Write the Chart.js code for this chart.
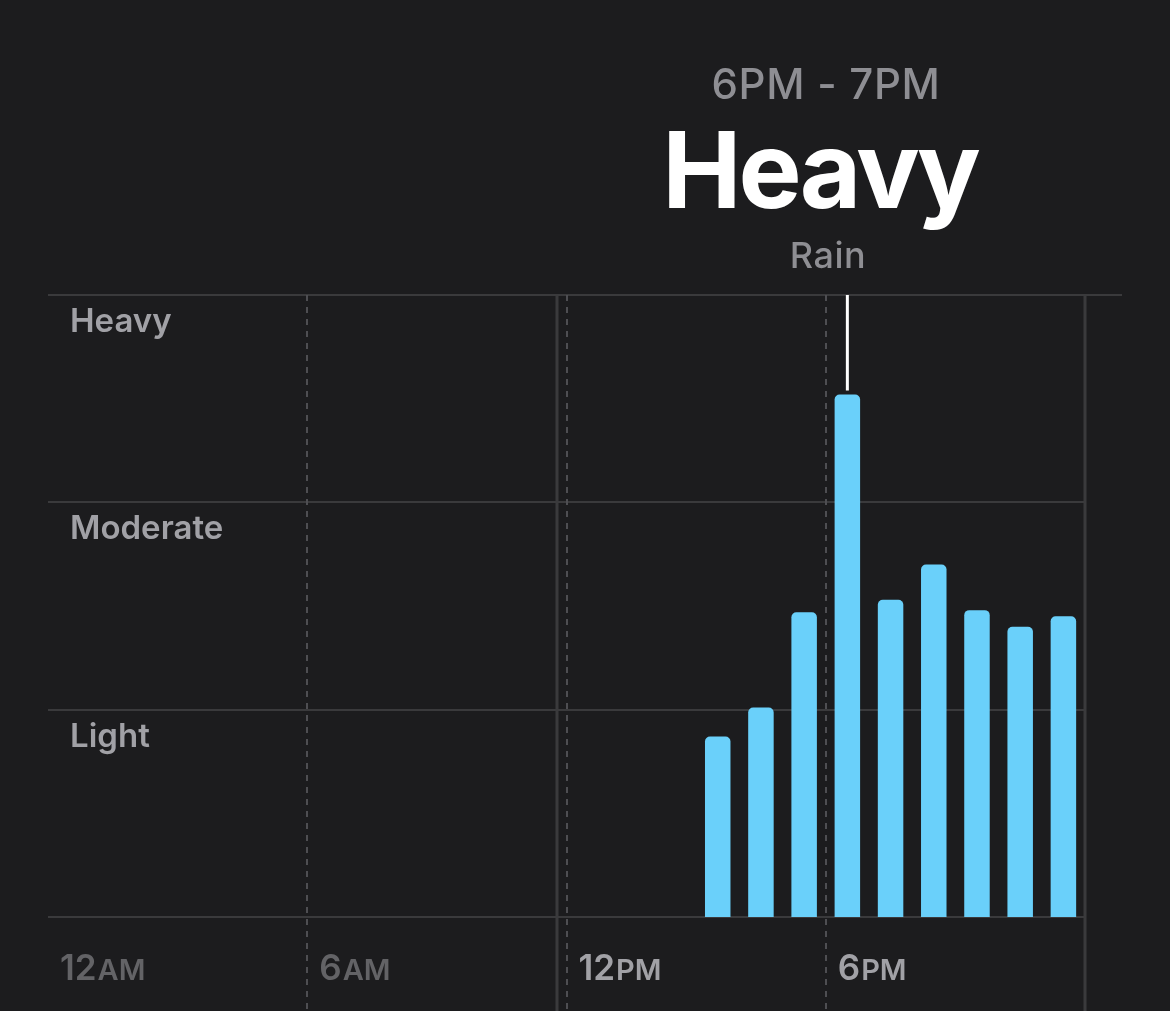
<!DOCTYPE html>
<html>
<head>
<meta charset="utf-8">
<script src="https://cdn.jsdelivr.net/npm/chart.js@4.4.1/dist/chart.umd.min.js"></script>
<style>
  body { margin: 0; background: #1c1c1e; overflow: hidden; }
  #wrap { position: relative; width: 1170px; height: 1011px; }
  .hdr { position: absolute; left: 826px; transform: translateX(-50%); white-space: nowrap; font-family: Inter, "Noto Sans", sans-serif; }
  #range { top: 63px; font-size: 42px; line-height: 42px; font-weight: 500; color: #8e8e93; letter-spacing: 0.7px; }
  #level { top: 117px; left: 820px; font-size: 106px; line-height: 106px; font-weight: 700; color: #ffffff; letter-spacing: -3px; }
  #kind { top: 237px; left: 828px; font-size: 36px; line-height: 36px; font-weight: 500; color: #8e8e93; letter-spacing: 0.5px; }
  canvas { position: absolute; left: 0; top: 0; }
</style>
</head>
<body>
<div id="wrap">
  <canvas id="rainChart" width="1170" height="1011"></canvas>
  <div class="hdr" id="range">6PM - 7PM</div>
  <div class="hdr" id="level">Heavy</div>
  <div class="hdr" id="kind">Rain</div>
</div>
<script>
// one bar per hour of the day, values on a 0..3 intensity scale
const hours = ['12AM','1AM','2AM','3AM','4AM','5AM','6AM','7AM','8AM','9AM','10AM','11AM',
               '12PM','1PM','2PM','3PM','4PM','5PM','6PM','7PM','8PM','9PM','10PM','11PM'];
const rainLevel = [null, null, null, null, null, null, null, null, null, null, null, null,
                   null, null, null, 0.87, 1.01, 1.47, 2.52, 1.53, 1.70, 1.48, 1.40, 1.45];

const levelValues = [1, 2, 3];
const levelNames = ['Light', 'Moderate', 'Heavy'];

const timeTicks = [0, 6, 12, 18];
const timeNums = ['12', '6', '12', '6'];
const timeSuffix = ['AM', 'AM', 'PM', 'PM'];
const timePast = [true, true, false, false];

const nowHour = 11.78;
const selectedHour = 18;

const FONT = 'Inter, "Noto Sans", sans-serif';
const GRID = '#3a3a3c';

const decor = {
  id: 'decor',
  beforeDatasetsDraw(chart) {
    const { ctx, chartArea: a, scales } = chart;
    const xh = scales.xh, y = scales.y;
    const bottom = chart.height;
    ctx.save();
    // horizontal levels
    ctx.strokeStyle = GRID;
    ctx.lineWidth = 2;
    [0].concat(levelValues).forEach(v => {
      const py = Math.round(y.getPixelForValue(v));
      ctx.beginPath();
      ctx.moveTo(a.left, py);
      ctx.lineTo(v === 3 ? 1122 : a.right, py);
      ctx.stroke();
    });
    // dashed hour markers
    ctx.strokeStyle = '#4e4e52';
    ctx.setLineDash([6, 6]);
    timeTicks.slice(1).forEach(h => {
      const px = Math.round(xh.getPixelForValue(h));
      ctx.beginPath();
      ctx.moveTo(px, a.top);
      ctx.lineTo(px, bottom);
      ctx.stroke();
    });
    ctx.setLineDash([]);
    // now line and end of day
    ctx.strokeStyle = GRID;
    ctx.lineWidth = 3;
    [nowHour, 24].forEach(h => {
      const px = Math.round(xh.getPixelForValue(h));
      ctx.beginPath();
      ctx.moveTo(px, a.top);
      ctx.lineTo(px, bottom);
      ctx.stroke();
    });
    ctx.restore();
  },
  afterDatasetsDraw(chart) {
    const { ctx, chartArea: a, scales } = chart;
    const xh = scales.xh, y = scales.y;
    ctx.save();
    // selection marker above the chosen hour
    const bar = chart.getDatasetMeta(0).data[selectedHour];
    ctx.strokeStyle = '#ffffff';
    ctx.lineWidth = 3;
    ctx.beginPath();
    ctx.moveTo(bar.x, a.top);
    ctx.lineTo(bar.x, bar.y - 4);
    ctx.stroke();
    // level labels sit just under their line
    ctx.fillStyle = '#a1a1a6';
    ctx.font = '600 33px ' + FONT;
    ctx.textBaseline = 'alphabetic';
    levelValues.forEach((v, i) => {
      ctx.fillText(levelNames[i], 70, y.getPixelForValue(v) + 37);
    });
    // time labels
    timeTicks.forEach((h, i) => {
      const px = xh.getPixelForValue(h) + 12;
      ctx.fillStyle = timePast[i] ? '#636366' : '#a1a1a6';
      ctx.font = '600 35px ' + FONT;
      ctx.fillText(timeNums[i], px, 980);
      const w = ctx.measureText(timeNums[i]).width;
      ctx.font = '600 29px ' + FONT;
      ctx.fillText(timeSuffix[i], px + w + 1, 980);
    });
    ctx.restore();
  }
};

new Chart(document.getElementById('rainChart'), {
  type: 'bar',
  data: {
    labels: hours,
    datasets: [{
      data: rainLevel,
      backgroundColor: '#6ad0fa',
      borderRadius: { topLeft: 5, topRight: 5, bottomLeft: 0, bottomRight: 0 },
      borderSkipped: false,
      barPercentage: 0.59,
      categoryPercentage: 1.0
    }]
  },
  options: {
    responsive: false,
    animation: false,
    devicePixelRatio: 1,
    layout: { padding: { left: 48, right: 85, top: 295, bottom: 94 } },
    plugins: { legend: { display: false }, tooltip: { enabled: false } },
    scales: {
      x: { type: 'category', display: false },
      xh: { type: 'linear', min: 0, max: 24, offset: false, display: false },
      y: { min: 0, max: 3, display: false }
    }
  },
  plugins: [decor]
});
</script>
</body>
</html>
